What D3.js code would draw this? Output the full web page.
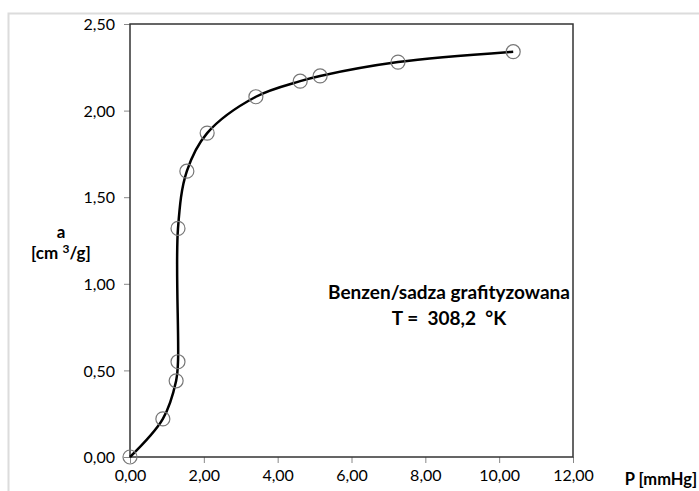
<!DOCTYPE html>
<html>
<head>
<meta charset="utf-8">
<script src="https://cdn.jsdelivr.net/npm/d3@7"></script>
<style>
  body { margin: 0; background: #fff; }
  svg text { font-family: Lato, "Open Sans", sans-serif; fill: #000; }
  .tick text { font-size: 16px; }
  .tick line { stroke: #888; }
  .label { font-weight: bold; }
</style>
</head>
<body>
<svg id="chart" width="699" height="491"></svg>
<script>
// P [mmHg] and a [cm3/g]
const pressure = [0, 0.89, 1.25, 1.30, 1.30, 1.54, 2.09, 3.41, 4.61, 5.15, 7.26, 10.38];
const adsorbed = [0, 0.22, 0.44, 0.55, 1.32, 1.65, 1.87, 2.08, 2.17, 2.20, 2.28, 2.34];
const xTicks = [0, 2, 4, 6, 8, 10, 12];
const yTicks = [0, 0.5, 1, 1.5, 2, 2.5];

const margin = {top: 24, right: 126, bottom: 34, left: 130};
const width = 699 - margin.left - margin.right;
const height = 491 - margin.top - margin.bottom;

const svg = d3.select("#chart");

// outer chart border (only top/left visible in the crop)
svg.append("path")
    .attr("d", "M8.5,491 L8.5,13.5 L699,13.5")
    .attr("fill", "none")
    .attr("stroke", "#dcdcdc")
    .attr("stroke-width", 2);

const g = svg.append("g").attr("transform", "translate(" + margin.left + "," + margin.top + ")");

const x = d3.scaleLinear().domain([0, 12]).range([0, width]);
const y = d3.scaleLinear().domain([0, 2.5]).range([height, 0]);

const comma = d => d3.format(".2f")(d).replace(".", ",");

g.append("g")
    .attr("transform", "translate(0," + height + ")")
    .call(d3.axisBottom(x).tickValues(xTicks).tickFormat(comma).tickSize(6).tickPadding(7))
    .call(a => a.select(".domain").remove());

g.append("g")
    .call(d3.axisLeft(y).tickValues(yTicks).tickFormat(comma).tickSize(6).tickPadding(9))
    .call(a => a.select(".domain").remove())
    .call(a => a.selectAll(".tick text").attr("dy", "0.35em"));

// plot frame
g.append("rect")
    .attr("width", width)
    .attr("height", height)
    .attr("fill", "none")
    .attr("stroke", "#333")
    .attr("stroke-width", 1.5);

const data = pressure.map((p, i) => ({x: p, y: adsorbed[i]}));

const line = d3.line()
    .x(d => x(d.x))
    .y(d => y(d.y))
    .curve(d3.curveCatmullRom.alpha(0.5));

g.append("path")
    .datum(data)
    .attr("d", line)
    .attr("fill", "none")
    .attr("stroke", "#000")
    .attr("stroke-width", 2.5);

g.selectAll(".pt")
    .data(data)
    .enter().append("circle")
    .attr("class", "pt")
    .attr("cx", d => x(d.x))
    .attr("cy", d => y(d.y))
    .attr("r", 7)
    .attr("fill", "none")
    .attr("stroke", "#777")
    .attr("stroke-width", 1.2);

// axis titles
svg.append("text").attr("class", "label")
    .attr("x", 61).attr("y", 238)
    .attr("text-anchor", "middle").style("font-size", "17px")
    .text("a");
const yl = svg.append("text").attr("class", "label")
    .attr("x", 61).attr("y", 259)
    .attr("text-anchor", "middle").style("font-size", "17px");
yl.append("tspan").text("[cm ");
yl.append("tspan").attr("dy", -6).style("font-size", "12px").text("3");
yl.append("tspan").attr("dy", 6).text("/g]");

svg.append("text").attr("class", "label")
    .attr("x", 661).attr("y", 485)
    .attr("text-anchor", "middle").style("font-size", "16.5px")
    .text("P [mmHg]");

// annotation
svg.append("text").attr("class", "label")
    .attr("x", 449).attr("y", 299)
    .attr("text-anchor", "middle").style("font-size", "19px")
    .text("Benzen/sadza grafityzowana");
svg.append("text").attr("class", "label")
    .attr("x", 449).attr("y", 325)
    .attr("text-anchor", "middle").style("font-size", "19px")
    .style("white-space", "pre")
    .text("T =  308,2  °K");
</script>
</body>
</html>
